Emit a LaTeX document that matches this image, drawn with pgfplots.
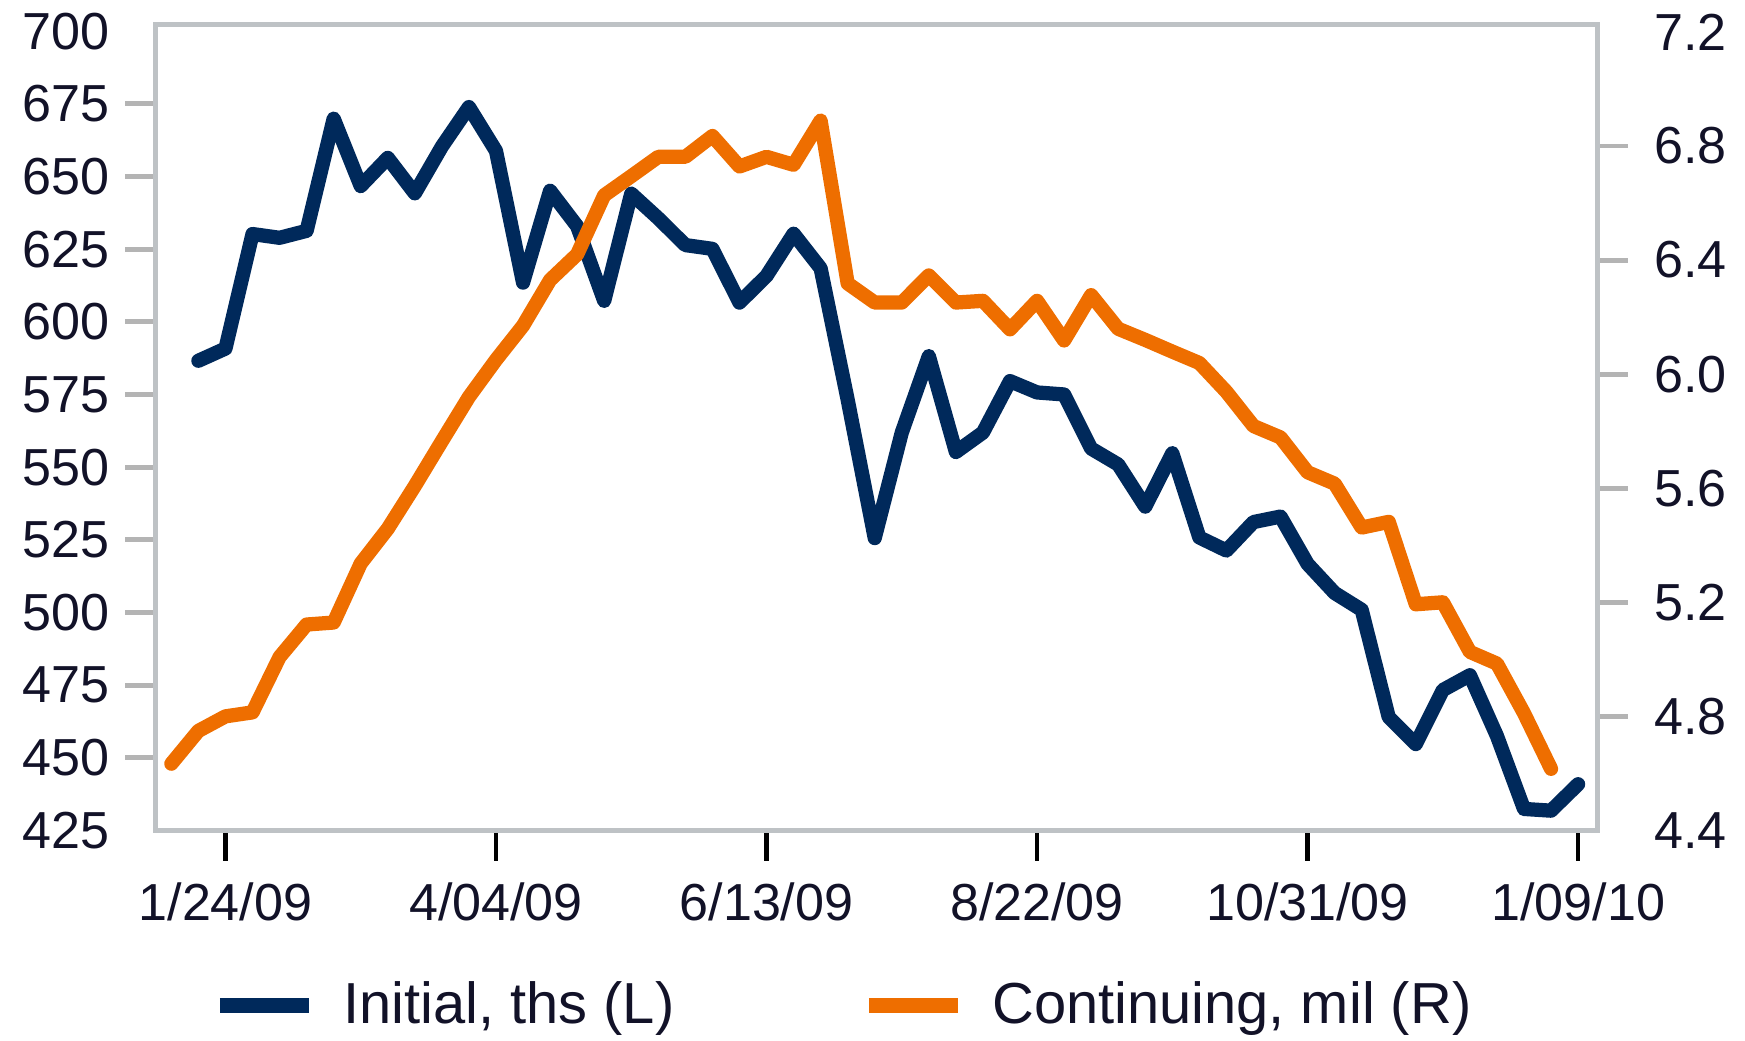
\documentclass[border=0pt]{standalone}
\usepackage{fontspec}
\setmainfont{Liberation Sans}
\usepackage{pgfplots}
\pgfplotsset{compat=1.18}
\definecolor{cblue}{HTML}{00295B}
\definecolor{corange}{HTML}{EE6E00}
\definecolor{cframe}{HTML}{BEC2C5}
\definecolor{ctick}{HTML}{B4B4B4}
\definecolor{ctext}{HTML}{121228}
\begin{document}
\begin{tikzpicture}
\useasboundingbox (-34.925pt,-47.2pt) rectangle (357.075pt,186.55pt);
\pgfplotsset{
  every axis/.append style={
    width=323.9pt, height=181.05pt, scale only axis,
    at={(0pt,0pt)}, anchor=south west,
    xmin=-2.587, xmax=50.71,
    font=\fontsize{11.7}{14}\selectfont,
    /pgf/number format/assume math mode=true,
    tick label style={text=ctext},
    tick align=outside,
    major tick length=6.8pt,
    axis line style={cframe, line width=1.1pt},
  }
}
\begin{axis}[
  ymin=425, ymax=702.3,
  ytick={450,475,500,525,550,575,600,625,650,675},
  extra y ticks={425,700},
  extra y tick style={ytick style={draw=none}},
  tick pos=left,
  xtick={0,10,20,30,40,50},
  xticklabels={1/24/09,4/04/09,6/13/09,8/22/09,10/31/09,1/09/10},
  xtick style={black, line width=1pt},
  ytick style={ctick, line width=1.1pt},
  xticklabel style={yshift=-1.5pt},
  legend columns=2,
  legend style={draw=none, fill=none, inner sep=0pt,
    font=\fontsize{13}{15}\selectfont, text=ctext,
    at={(axis description cs:0.0388,-0.2177)}, anchor=west,
    /tikz/every odd column/.append style={column sep=4pt},
    /tikz/every even column/.append style={column sep=40pt}},
  legend image code/.code={\draw[#1, line width=3.4pt, line cap=butt] (0pt,0pt) -- (20pt,0pt);},
]
\addplot[cblue, line width=3.2pt, line join=round, line cap=round] coordinates {
(-1,586.6) (0,590.8) (1,630.2) (2,628.9) (3,631.3) (4,669.9) (5,646.7) (6,656.4)
(7,644.2) (8,660.3) (9,673.9) (10,658.8) (11,613.5) (12,645.1) (13,632.9) (14,607.2)
(15,644.1) (16,635.6) (17,626.4) (18,625.1) (19,606.6) (20,615.8) (21,630.3) (22,618.4)
(23,573.2) (24,525.6) (25,561.9) (26,588.2) (27,555.2) (28,561.9) (29,579.6) (30,575.7)
(31,575.0) (32,556.4) (33,550.9) (34,536.4) (35,554.8) (36,525.8) (37,521.3) (38,531.1)
(39,533.0) (40,516.7) (41,506.7) (42,500.9) (43,464.0) (44,454.7) (45,473.3) (46,478.4)
(47,457.5) (48,432.4) (49,431.8) (50,440.9)
};
\addlegendentry{Initial, ths (L)}
\addlegendimage{corange}
\addlegendentry{Continuing, mil (R)}
\end{axis}
\begin{axis}[
  ymin=4.4, ymax=7.226,
  axis y line*=right, axis x line=none,
  ytick={4.8,5.2,5.6,6.0,6.4,6.8},
  extra y ticks={4.4,7.2},
  extra y tick style={ytick style={draw=none}},
  ytick style={ctick, line width=1.1pt},
  yticklabel style={xshift=2.5pt, /pgf/number format/.cd, fixed, fixed zerofill, precision=1},
]
\addplot[corange, line width=3.2pt, line join=round, line cap=round] coordinates {
(-2,4.634) (-1,4.749) (0,4.800) (1,4.814) (2,5.008) (3,5.122) (4,5.129) (5,5.336)
(6,5.458) (7,5.608) (8,5.765) (9,5.920) (10,6.050) (11,6.170) (12,6.330) (13,6.420)
(14,6.627) (15,6.694) (16,6.762) (17,6.762) (18,6.835) (19,6.728) (20,6.762) (21,6.734)
(22,6.889) (23,6.318) (24,6.251) (25,6.251) (26,6.346) (27,6.251) (28,6.257) (29,6.157)
(30,6.257) (31,6.118) (32,6.277) (33,6.159) (34,6.120) (35,6.079) (36,6.039) (37,5.938)
(38,5.818) (39,5.778) (40,5.656) (41,5.616) (42,5.462) (43,5.482) (44,5.193) (45,5.200)
(46,5.026) (47,4.985) (48,4.811) (49,4.616)
};
\end{axis}
\end{tikzpicture}
\end{document}
